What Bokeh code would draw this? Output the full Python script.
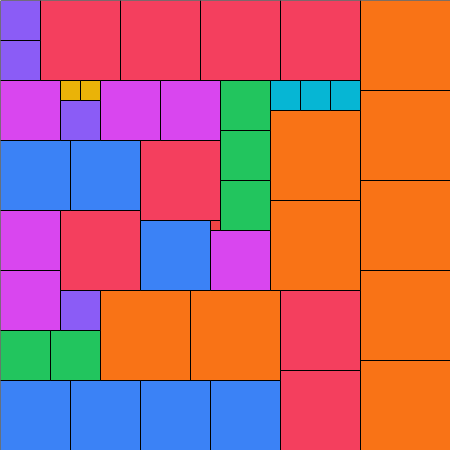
from bokeh.plotting import figure
from bokeh.models import ColumnDataSource, Range1d
from bokeh.embed import file_html
from bokeh.resources import INLINE

# Partridge packing: n squares of side n (n = 1..9), in units of 10 px, on a 45x45 grid
sizes = [9] * 9 + [8] * 8 + [7] * 7 + [6] * 6 + [5] * 5 + [4] * 4 + [3] * 3 + [2] * 2 + [1]
xs = [36, 36, 36, 36, 36, 27, 27, 10, 19,
      4, 12, 20, 28, 14, 6, 28, 28,
      0, 7, 14, 0, 7, 14, 21,
      0, 10, 16, 21, 0, 0,
      22, 22, 22, 0, 5,
      0, 0, 6, 6,
      27, 30, 33,
      6, 8,
      21]
ys = [0, 9, 18, 27, 36, 11, 20, 29, 29,
      0, 0, 0, 0, 14, 21, 29, 37,
      14, 14, 22, 38, 38, 38, 38,
      8, 8, 8, 23, 21, 27,
      8, 13, 18, 33, 33,
      0, 4, 10, 29,
      8, 8, 8,
      8, 8,
      22]
palette = {9: "#f97316", 8: "#f43f5e", 7: "#3b82f6", 6: "#d946ef", 5: "#22c55e",
           4: "#8b5cf6", 3: "#06b6d4", 2: "#eab308", 1: "#ef4444"}

src = ColumnDataSource(dict(
    left=xs,
    right=[x + s for x, s in zip(xs, sizes)],
    top=ys,
    bottom=[y + s for y, s in zip(ys, sizes)],
    color=[palette[s] for s in sizes],
))

p = figure(width=450, height=450, output_backend="svg", toolbar_location=None,
           x_range=Range1d(0, 45), y_range=Range1d(45, 0), min_border=0)
p.axis.visible = False
p.grid.visible = False
p.outline_line_color = None
p.quad(left="left", right="right", top="top", bottom="bottom", source=src,
       fill_color="color", line_color="black", line_width=1)

open("out.html", "w").write(file_html(p, INLINE))
